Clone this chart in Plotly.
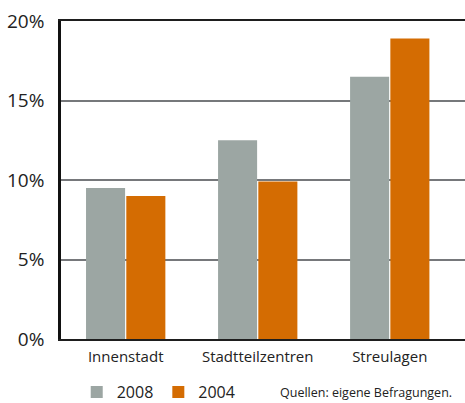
import plotly.graph_objects as go

# Anteile nach Standortlage (in %)
categories = ["Innenstadt", "Stadtteilzentren", "Streulagen"]
values_2008 = [9.5, 12.5, 16.5]
values_2004 = [9.0, 9.9, 18.9]
y_ticks = [0, 5, 10, 15, 20]
y_tick_labels = [f"{v}%" for v in y_ticks]
source_note = "Quellen: eigene Befragungen."

GRAY = "#9ca6a3"
ORANGE = "#d46c02"
FONT = "Open Sans"

fig = go.Figure()
fig.add_trace(go.Bar(name="2008", x=categories, y=values_2008,
                     marker=dict(color=GRAY, line=dict(width=0))))
fig.add_trace(go.Bar(name="2004", x=categories, y=values_2004,
                     marker=dict(color=ORANGE, line=dict(width=0))))

fig.update_layout(
    width=465, height=403,
    margin=dict(l=61, r=0, t=21, b=64, autoexpand=False),
    paper_bgcolor="white", plot_bgcolor="white",
    barmode="group", bargap=0.39, bargroupgap=0.03,
    font=dict(family=FONT, color="#222222"),
    showlegend=True,
    legend=dict(orientation="h", xref="container", yref="container",
                x=0.165, xanchor="left", y=0.027, yanchor="middle",
                font=dict(size=16, color="#222222"), itemwidth=30,
                traceorder="normal", tracegroupgap=0),
    xaxis=dict(
        range=[-0.49, 2.57], showgrid=False,
        showline=True, mirror=True, linecolor="#1e1e1e", linewidth=2,
        ticks="", ticklabelstandoff=3, tickfont=dict(size=15, color="#222222"),
    ),
    yaxis=dict(
        range=[0, 20], tickvals=y_ticks, ticktext=y_tick_labels,
        showgrid=True, gridcolor="#76787b", gridwidth=2,
        showline=True, linecolor="#111111", linewidth=2.5,
        ticks="", ticklabelstandoff=10, tickfont=dict(size=19, color="#222222"),
        layer="above traces", zeroline=False,
    ),
    annotations=[dict(
        text=source_note, xref="paper", yref="paper", x=0.537, y=-0.168,
        xanchor="left", yanchor="middle", showarrow=False,
        font=dict(size=12.5, color="#222222"),
    )],
)

fig.write_html("out.html")
